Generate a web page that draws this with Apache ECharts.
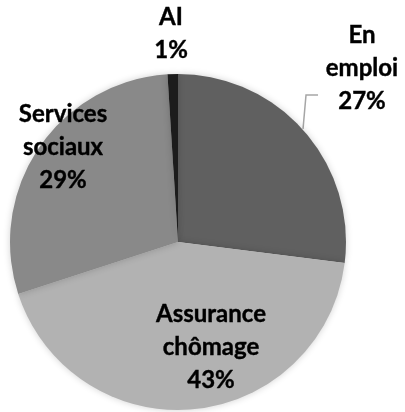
<!DOCTYPE html>
<html>
<head>
<meta charset="utf-8">
<script src="https://cdn.jsdelivr.net/npm/echarts@6/dist/echarts.min.js"></script>
<style>
html,body{margin:0;padding:0;background:#fff;}
#chart{width:405px;height:412px;}
</style>
</head>
<body>
<div id="chart"></div>
<script>
const categories = ['En emploi', 'Assurance chômage', 'Services sociaux', 'AI'];
const labelLines = [['En', 'emploi'], ['Assurance', 'chômage'], ['Services', 'sociaux'], ['AI']];
const values = [27, 43, 29, 1];
const colors = ['#606060', '#b2b2b2', '#898989', '#1c1c1c'];

// label anchor positions (center of text block) in px
const labelPos = [[362, 68], [211, 347], [63, 147], [171, 34]];

const chart = echarts.init(document.getElementById('chart'), null, {renderer: 'canvas'});
const data = categories.map((c, i) => ({
  name: c,
  value: values[i],
  itemStyle: {color: colors[i]},
  label: {
    formatter: labelLines[i].join('\n') + '\n' + values[i] + '%',
    position: i === 0 ? 'outside' : 'inside'
  },
  labelLine: {show: i === 0}
}));

chart.setOption({
  animation: false,
  series: [{
    type: 'pie',
    center: [178, 242],
    radius: [0, 168],
    startAngle: 90,
    clockwise: true,
    data: data,
    label: {
      show: true,
      fontFamily: 'Lato',
      fontWeight: 'bold',
      fontSize: 24,
      lineHeight: 33,
      color: '#000',
      textBorderColor: '#000',
      textBorderWidth: 0.4,
      align: 'center',
      overflow: 'none'
    },
    labelLine: {
      lineStyle: {color: '#a6a6a6', width: 1.5},
      length: 25,
      length2: 12
    },
    labelLayout: function (params) {
      const p = labelPos[params.dataIndex];
      const out = {
        x: p[0],
        y: p[1],
        align: 'center',
        verticalAlign: 'middle'
      };
      if (params.dataIndex === 0 && params.labelLinePoints) {
        const s = params.labelLinePoints[0];
        const ly = p[1] + 27;
        out.labelLinePoints = [[s[0] - 1, s[1] - 2], [s[0] + 2, ly], [s[0] + 14, ly]];
      }
      return out;
    },
    itemStyle: {
      shadowBlur: 7,
      shadowColor: 'rgba(0,0,0,0.18)'
    }
  }]
});
</script>
</body>
</html>
